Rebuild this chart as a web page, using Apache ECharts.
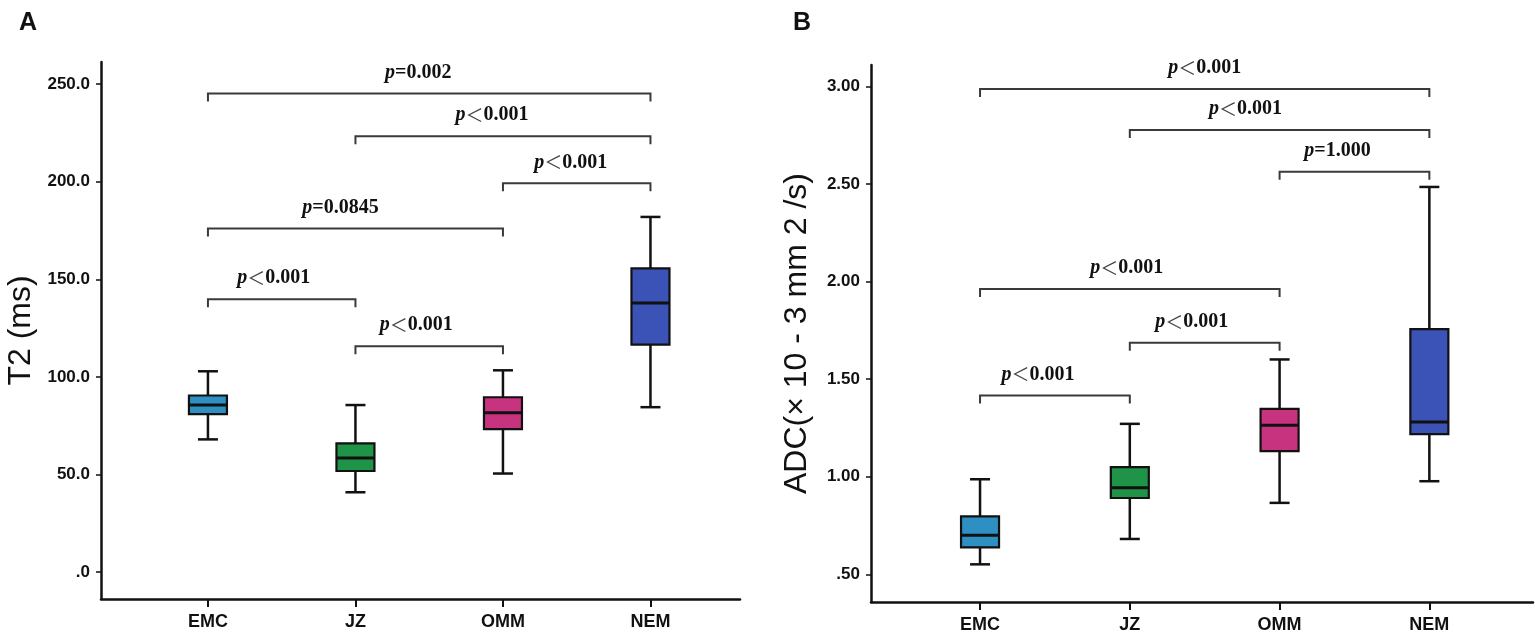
<!DOCTYPE html>
<html>
<head>
<meta charset="utf-8">
<style>
html, body { margin: 0; padding: 0; background: #fff; }
#main { width: 1535px; height: 636px; }
</style>
<script src="https://cdn.jsdelivr.net/npm/echarts@6/dist/echarts.min.js"></script>
</head>
<body>
<div id="main"></div>
<script type="text/javascript">
	// 分组
	var groups = ['EMC', 'JZ', 'OMM', 'NEM'];

	// 箱线图统计量：[min, Q1, median, Q3, max]
	var t2Stats = [
		[68.0, 80.9, 85.6, 90.5, 102.9],
		[40.9, 51.8, 58.5, 66.0, 85.6],
		[50.5, 73.3, 81.7, 89.6, 103.4],
		[84.5, 116.6, 137.9, 155.6, 182.0]
	];
	var adcStats = [
		[0.551, 0.638, 0.700, 0.797, 0.987],
		[0.681, 0.891, 0.944, 1.049, 1.271],
		[0.866, 1.131, 1.264, 1.348, 1.601],
		[0.977, 1.218, 1.281, 1.756, 2.485]
	];

	// 两两比较：[起始组, 结束组, 高度]
	var t2Pairs = [[0, 3, 245.3], [1, 3, 223.4], [2, 3, 199.2], [0, 2, 176.1], [0, 1, 139.8], [1, 2, 115.7]];
	var t2POps = ['=', '＜', '＜', '=', '＜', '＜'];
	var t2PValues = ['0.002', '0.001', '0.001', '0.0845', '0.001', '0.001'];

	var adcPairs = [[0, 3, 2.987], [1, 3, 2.777], [2, 3, 2.563], [0, 2, 1.962], [1, 2, 1.686], [0, 1, 1.416]];
	var adcPOps = ['＜', '＜', '=', '＜', '＜', '＜'];
	var adcPValues = ['0.001', '0.001', '1.000', '0.001', '0.001', '0.001'];

	// 刻度
	var t2Ticks = [0, 50, 100, 150, 200, 250];
	var t2TickLabels = ['.0', '50.0', '100.0', '150.0', '200.0', '250.0'];
	var adcTicks = [0.5, 1, 1.5, 2, 2.5, 3];
	var adcTickLabels = ['.50', '1.00', '1.50', '2.00', '2.50', '3.00'];
	var groupIdx = [0, 1, 2, 3];

	// 样式
	var palette = ['#2e8fc2', '#1f9448', '#c8337f', '#3b53b6'];
	var labelFont = 'Liberation Sans, Arial, sans-serif';
	var serifFont = 'Liberation Serif, Times New Roman, serif';
	// p 值文字相对括号中点的水平偏移（像素）
	var t2PShift = [-11, -11, -6, -15, -8, -13];
	var adcPShift = [0, -34, -17, -3, -13, -17];

	// 箱体
	function renderBox(params, api) {
		var x = api.value(0);
		var pMin = api.coord([x, api.value(1)]);
		var pQ1 = api.coord([x, api.value(2)]);
		var pMed = api.coord([x, api.value(3)]);
		var pQ3 = api.coord([x, api.value(4)]);
		var pMax = api.coord([x, api.value(5)]);
		var cx = pMin[0];
		var bw = 19, cw = 10;
		var line = { stroke: '#111', lineWidth: 2.5 };
		return {
			type: 'group',
			children: [
				{ type: 'line', shape: { x1: cx, y1: pMax[1], x2: cx, y2: pQ3[1] }, style: line },
				{ type: 'line', shape: { x1: cx, y1: pQ1[1], x2: cx, y2: pMin[1] }, style: line },
				{ type: 'line', shape: { x1: cx - cw, y1: pMax[1], x2: cx + cw, y2: pMax[1] }, style: line },
				{ type: 'line', shape: { x1: cx - cw, y1: pMin[1], x2: cx + cw, y2: pMin[1] }, style: line },
				{ type: 'rect', shape: { x: cx - bw, y: pQ3[1], width: bw * 2, height: pQ1[1] - pQ3[1] },
					style: { fill: palette[params.dataIndex], stroke: '#111', lineWidth: 2.2 } },
				{ type: 'line', shape: { x1: cx - bw, y1: pMed[1], x2: cx + bw, y2: pMed[1] },
					style: { stroke: '#111', lineWidth: 3 } }
			]
		};
	}

	// 显著性标注
	function bracketRenderer(ops, values, shifts) {
		return function(params, api) {
			var a = api.coord([api.value(0), api.value(2)]);
			var b = api.coord([api.value(1), api.value(2)]);
			var leg = 8;
			var i = params.dataIndex;
			var opTag = ops[i] === '＜' ? 'lt' : 'eq';
			return {
				type: 'group',
				children: [
					{ type: 'polyline',
						shape: { points: [[a[0], a[1] + leg], [a[0], a[1]], [b[0], b[1]], [b[0], b[1] + leg]] },
						style: { stroke: '#3a3a3a', lineWidth: 2, fill: null } },
					{ type: 'text', x: (a[0] + b[0]) / 2 + shifts[i], y: a[1] - 21,
						style: {
							text: '{p|p}{' + opTag + '|' + ops[i] + '}{v|' + values[i] + '}',
							align: 'center', verticalAlign: 'middle',
							rich: {
								p: { fontFamily: serifFont, fontStyle: 'italic', fontWeight: 'bold', fontSize: 20, fill: '#111' },
								eq: { fontFamily: serifFont, fontWeight: 'bold', fontSize: 20, fill: '#111' },
								lt: { fontFamily: 'Noto Sans CJK SC', fontWeight: 'normal', fontSize: 18, fill: '#444' },
								v: { fontFamily: serifFont, fontWeight: 'bold', fontSize: 20, fill: '#111' }
							}
						} }
				]
			};
		};
	}

	function boxData(stats) {
		return stats.map(function(s, i) { return [i].concat(s); });
	}

	function makeXAxis(gridIndex, min, max) {
		return {
			gridIndex: gridIndex, type: 'value', min: min, max: max,
			splitLine: { show: false },
			axisLine: { onZero: false, lineStyle: { color: '#111', width: 2.5 } },
			axisTick: { customValues: groupIdx, length: 8, lineStyle: { color: '#111', width: 2 } },
			axisLabel: {
				customValues: groupIdx, margin: 14,
				formatter: function(v) { return groups[Math.round(v)]; },
				fontFamily: labelFont, fontWeight: 'bold', fontSize: 18, color: '#111'
			}
		};
	}

	function makeYAxis(gridIndex, min, max, ticks, tickLabels, name, gap) {
		return {
			gridIndex: gridIndex, type: 'value', min: min, max: max,
			name: name, nameLocation: 'middle', nameGap: gap, nameRotate: 90,
			nameTextStyle: { fontFamily: labelFont, fontSize: 32, color: '#111' },
			splitLine: { show: false },
			axisLine: { onZero: false, lineStyle: { color: '#111', width: 2.5 } },
			axisTick: { customValues: ticks, length: 5, lineStyle: { color: '#111', width: 1.5 } },
			axisLabel: {
				customValues: ticks, margin: 11,
				formatter: function(v) { return tickLabels[ticks.indexOf(v)]; },
				fontFamily: labelFont, fontWeight: 'bold', fontSize: 17, color: '#111'
			}
		};
	}

	var option = {
		animation: false,
		backgroundColor: '#fff',
		title: [
			{ text: 'A', left: 14, top: 6, textStyle: { fontFamily: labelFont, fontWeight: 'bold', fontSize: 25, color: '#111' } },
			{ text: 'B', left: 788, top: 6, textStyle: { fontFamily: labelFont, fontWeight: 'bold', fontSize: 25, color: '#111' } }
		],
		grid: [
			{ left: 101, top: 62, width: 639, height: 537 },
			{ left: 871, top: 65, width: 662, height: 537 }
		],
		xAxis: [
			makeXAxis(0, -0.725, 3.607),
			makeXAxis(1, -0.728, 3.692)
		],
		yAxis: [
			makeYAxis(0, -13.8, 261.4, t2Ticks, t2TickLabels, 'T2 (ms)', 64),
			makeYAxis(1, 0.358, 3.11, adcTicks, adcTickLabels, 'ADC(× 10 - 3 mm 2 /s)', 58)
		],
		series: [
			{ type: 'custom', xAxisIndex: 0, yAxisIndex: 0, renderItem: renderBox,
				encode: { x: 0, y: [1, 2, 3, 4, 5] }, data: boxData(t2Stats) },
			{ type: 'custom', xAxisIndex: 1, yAxisIndex: 1, renderItem: renderBox,
				encode: { x: 0, y: [1, 2, 3, 4, 5] }, data: boxData(adcStats) },
			{ type: 'custom', xAxisIndex: 0, yAxisIndex: 0, renderItem: bracketRenderer(t2POps, t2PValues, t2PShift),
				encode: { x: [0, 1], y: 2 }, data: t2Pairs },
			{ type: 'custom', xAxisIndex: 1, yAxisIndex: 1, renderItem: bracketRenderer(adcPOps, adcPValues, adcPShift),
				encode: { x: [0, 1], y: 2 }, data: adcPairs }
		]
	};

	var chart = echarts.init(document.getElementById('main'));
	chart.setOption(option);
</script>
</body>
</html>
